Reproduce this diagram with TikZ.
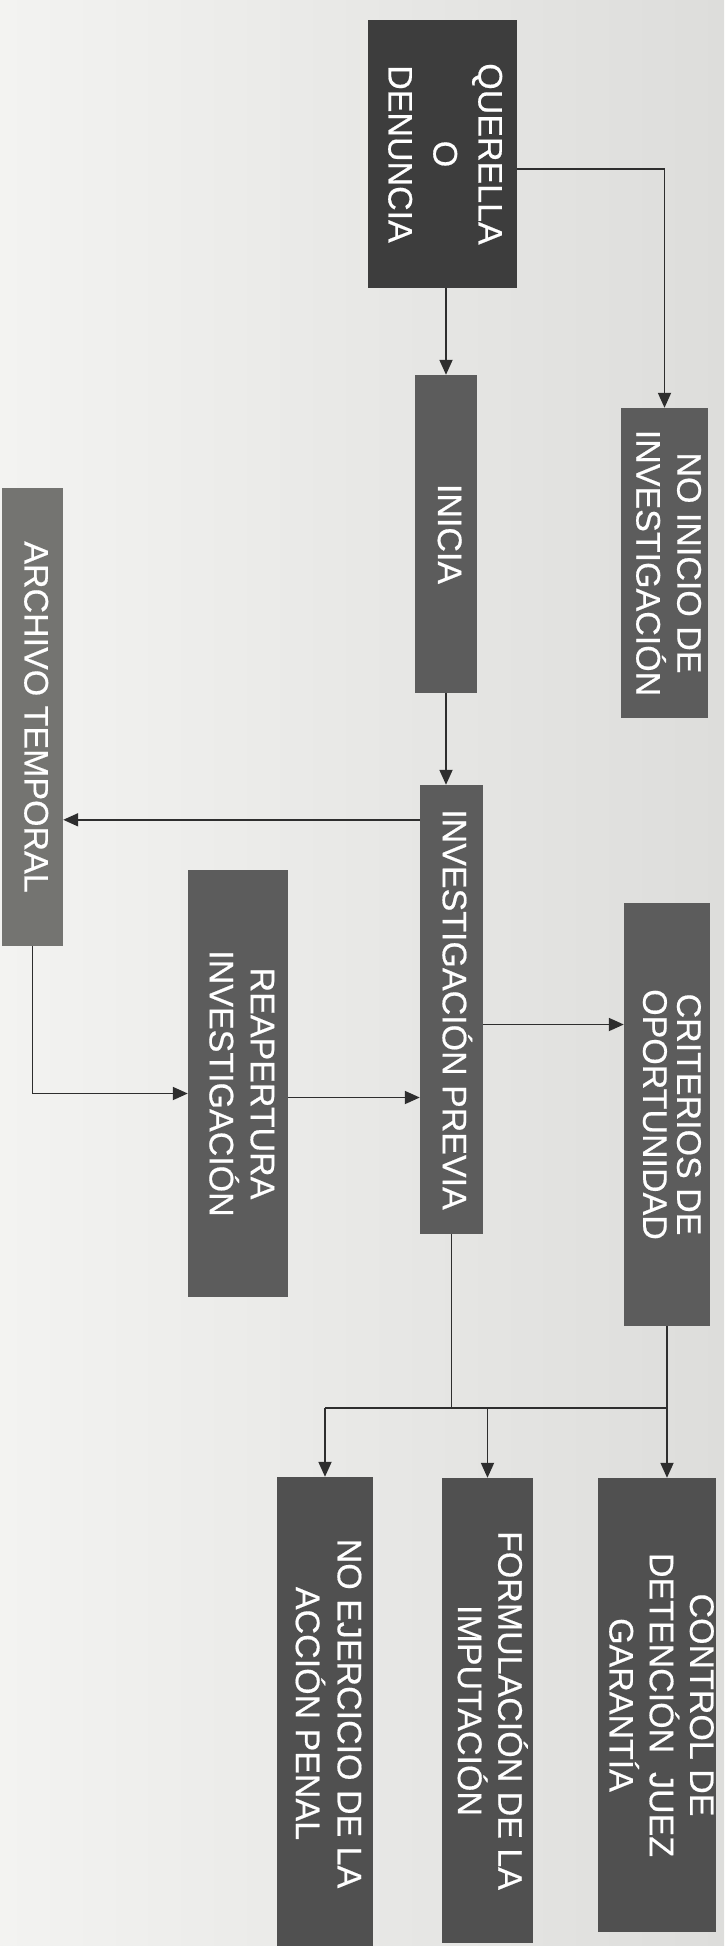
\documentclass[tikz,border=0pt]{standalone}
\usepackage{fontspec}
\setmainfont{Liberation Sans}
\newfontfamily\boxfont{Liberation Sans}[FakeBold=0.5]
\usetikzlibrary{arrows.meta,calc}
\definecolor{bgL}{HTML}{F3F3F1}
\definecolor{bgR}{HTML}{DDDDDB}
\definecolor{boxdark}{HTML}{3D3D3D}
\definecolor{boxmid}{HTML}{5C5C5C}
\definecolor{boxlight}{HTML}{747471}
\definecolor{boxlow}{HTML}{505050}
\definecolor{linec}{HTML}{2E2E2E}
\newcommand\vt[2][40]{\rotatebox{-90}{\boxfont\fontsize{34}{#1}\selectfont\begin{tabular}{@{}c@{}}#2\end{tabular}}}
\begin{document}
\begin{tikzpicture}[x=1pt,y=-1pt,
  box/.style={fill=boxmid, text=white, inner sep=0pt, anchor=center},
  arr/.style={draw=linec, line width=1.8pt, -{Triangle[length=15pt,width=13pt]}},
  conn/.style={draw=linec, line width=1.8pt}]

\useasboundingbox (0,0) rectangle (724,1946);
\shade[left color=bgL, right color=bgR] (0,0) rectangle (724,1946);

% boxes
\node[box, fill=boxdark, minimum width=149pt, minimum height=268pt] (q) at (442.5,154) {\vt[45]{QUERELLA\\O\\DENUNCIA}};
\node[box, minimum width=62pt, minimum height=318pt] (ini) at (446,534) {\vt{INICIA}};
\node[box, minimum width=87pt, minimum height=310pt] (noi) at (664.5,563) {\vt[38]{NO INICIO DE\\INVESTIGACIÓN}};
\node[box, minimum width=63pt, minimum height=449pt] (ip) at (451.5,1009.5) {\vt{INVESTIGACIÓN PREVIA}};
\node[box, fill=boxlight, minimum width=61pt, minimum height=458pt] (arch) at (32.5,717) {\vt{ARCHIVO TEMPORAL}};
\node[box, minimum width=100pt, minimum height=427pt] (reap) at (238,1083.5) {\vt[39]{REAPERTURA\\INVESTIGACIÓN}};
\node[box, minimum width=86pt, minimum height=423pt] (crit) at (667,1114.5) {\vt[34]{CRITERIOS DE\\OPORTUNIDAD}};
\node[box, fill=boxlow, minimum width=118pt, minimum height=454pt] (ctrl) at (657,1705) {\vt[36]{CONTROL DE\\DETENCIÓN~~JUEZ\\GARANTÍA}};
\node[box, fill=boxlow, minimum width=91pt, minimum height=465pt] (form) at (487.5,1710.5) {\vt[36]{FORMULACIÓN DE LA\\IMPUTACIÓN}};
\node[box, fill=boxlow, minimum width=96pt, minimum height=473pt] (noej) at (325,1713.5) {\vt[41]{NO EJERCICIO DE LA\\ACCIÓN PENAL}};

% connectors
\draw[arr] (ini.north |- q.south) -- (ini.north);
\draw[arr] ([yshift=-15pt]q.east) -| (noi.north);
\draw[arr] (ini.south) -- (ini.south |- ip.north);

\coordinate (a1) at ([yshift=-35pt]ip.north west);
\draw[arr] (a1) -- (a1 -| arch.east);

\draw[arr] (arch.south) |- ([yshift=-10pt]reap.west);

\coordinate (a2) at ([yshift=-14pt]reap.east);
\draw[arr] (a2) -- (a2 -| ip.west);

\coordinate (a3) at ([yshift=-15pt]ip.east);
\draw[arr] (a3) -- (a3 -| crit.west);

\coordinate (j) at ([yshift=-174pt]ip.south);
\draw[conn] (ip.south) -- (j);
\draw[conn] (noej.north |- j) -- (crit.south |- j);
\draw[arr] (crit.south) -- (crit.south |- ctrl.north);
\draw[arr] (form.north |- j) -- (form.north);
\draw[arr] (noej.north |- j) -- (noej.north);
\end{tikzpicture}
\end{document}
